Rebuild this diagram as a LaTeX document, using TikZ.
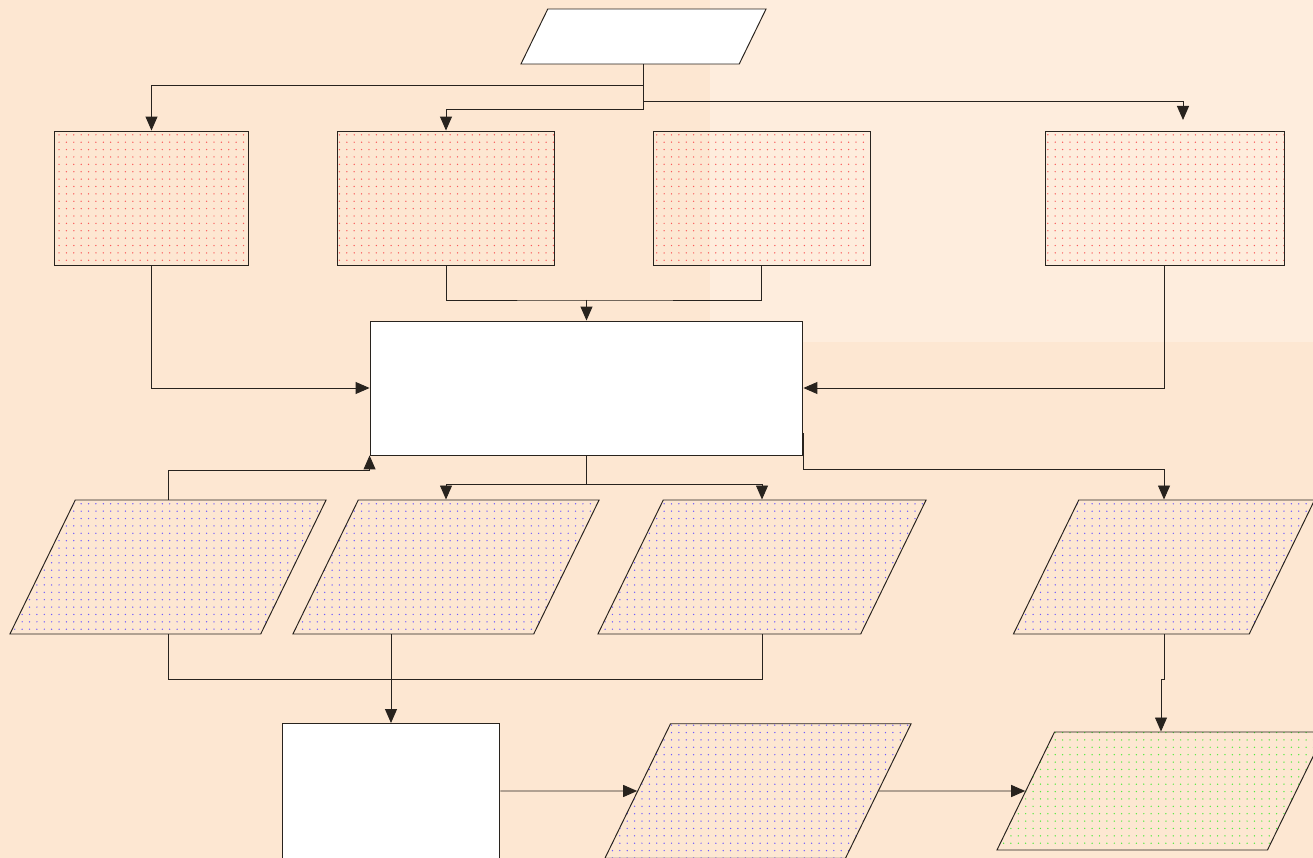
\documentclass[tikz,border=0pt]{standalone}
\usetikzlibrary{arrows.meta,shapes.geometric,patterns.meta}
\definecolor{peach}{RGB}{253,231,210}
\definecolor{cream}{RGB}{254,237,221}
\definecolor{dotred}{RGB}{250,90,90}
\definecolor{dotblue}{RGB}{110,90,255}
\definecolor{dotgreen}{RGB}{80,235,60}
\definecolor{edge}{RGB}{40,35,30}
\tikzset{
  >={Triangle[length=2.8mm,width=2.4mm]},
  wire/.style={draw=edge,line width=0.55pt},
  plain box/.style={draw=edge,line width=0.55pt,fill=white,inner sep=0pt},
  dot box/.style={draw=edge,line width=0.55pt,inner sep=0pt,
    pattern={Dots[distance=4.2pt,radius=0.42pt]},pattern color=#1},
  dot box/.default=dotred,
  % body width, body height
  para/.style 2 args={trapezium,trapezium left angle=64,trapezium right angle=116,
    draw=edge,line width=0.55pt,inner sep=0pt,text width=#1,text height=#2,text depth=0pt},
  dots/.style={pattern={Dots[distance=4.2pt,radius=0.42pt]},pattern color=#1},
  dots/.default=dotblue,
}
\begin{document}
\begin{tikzpicture}[x=0.02cm,y=-0.02cm]
  % page and shading
  \fill[peach] (0,0) rectangle (1313,858);
  \fill[cream] (710,0) rectangle (1313,342);
  \useasboundingbox (0,0) rectangle (1313,858);

  % first row
  \node[para={3.83cm}{1.1cm},fill=white] (input) at (643.5,36.5) {};
  \node[dot box,minimum width=3.9cm,minimum height=2.68cm] (A) at (151.5,198) {};
  \node[dot box,minimum width=4.36cm,minimum height=2.68cm] (B) at (446,198) {};
  \node[dot box,minimum width=4.34cm,minimum height=2.68cm] (C) at (761.5,198) {};
  \node[dot box,minimum width=4.78cm,minimum height=2.68cm] (D) at (1164.5,198) {};
  \coordinate (Dtip) at (1183,120);

  % middle
  \node[plain box,minimum width=8.66cm,minimum height=2.68cm] (main) at (586.5,388) {};
  \coordinate (mergeBC) at (586.5,300);
  \coordinate (split) at (586.5,484);

  % second row
  \node[para={3.71cm}{2.68cm},dots] (P1) at (168,567) {};
  \node[para={3.51cm}{2.68cm},dots] (P2) at (446,567) {};
  \node[para={3.95cm}{2.68cm},dots] (P3) at (762,567) {};
  \node[para={3.41cm}{2.68cm},dots] (P4) at (1164,567) {};

  % last row
  \node[plain box,minimum width=4.36cm,minimum height=2.7cm] (E) at (391,791) {};
  \node[para={3.5cm}{2.69cm},dots] (P5) at (758,791) {};
  \node[para={4.26cm}{2.36cm},dots=dotgreen] (P6) at (1161,791) {};

  % connectors
  \draw[wire,->] (input.south) -- ++(0,21) -| (A.north);
  \draw[wire,->] (input.south) -- ++(0,45) -| (B.north);
  \draw[wire,->] (input.south) -- ++(0,37) -| (Dtip);
  \draw[wire,->] (A.south) |- (main.west);
  \draw[wire] (B.south) |- (mergeBC) -| (C.south);
  \draw[wire,->] (mergeBC) -- (main.north);
  \draw[wire,->] (D.south) |- (main.east);
  \draw[wire] (main.south) -- (split);
  \draw[wire,->] (split) -| (P2.north);
  \draw[wire,->] (split) -| (P3.north);
  \draw[wire,->] ([yshift=0.44cm]main.south east) -- ++(0,36) -| (P4.north);
  \draw[wire,->] (P1.north) -- ++(0,-29) -| (main.south west);
  \draw[wire] (P1.south) -- ++(0,45) -| (P3.south);
  \draw[wire,->] (P2.south -| E.north) -- (E.north);
  \draw[wire,->] (E.east) -- (P5.west);
  \draw[wire,->] (P5.east) -- (P6.west);
  \draw[wire,->] (P4.south) -- ++(0,45) -| (P6.north);
\end{tikzpicture}
\end{document}
